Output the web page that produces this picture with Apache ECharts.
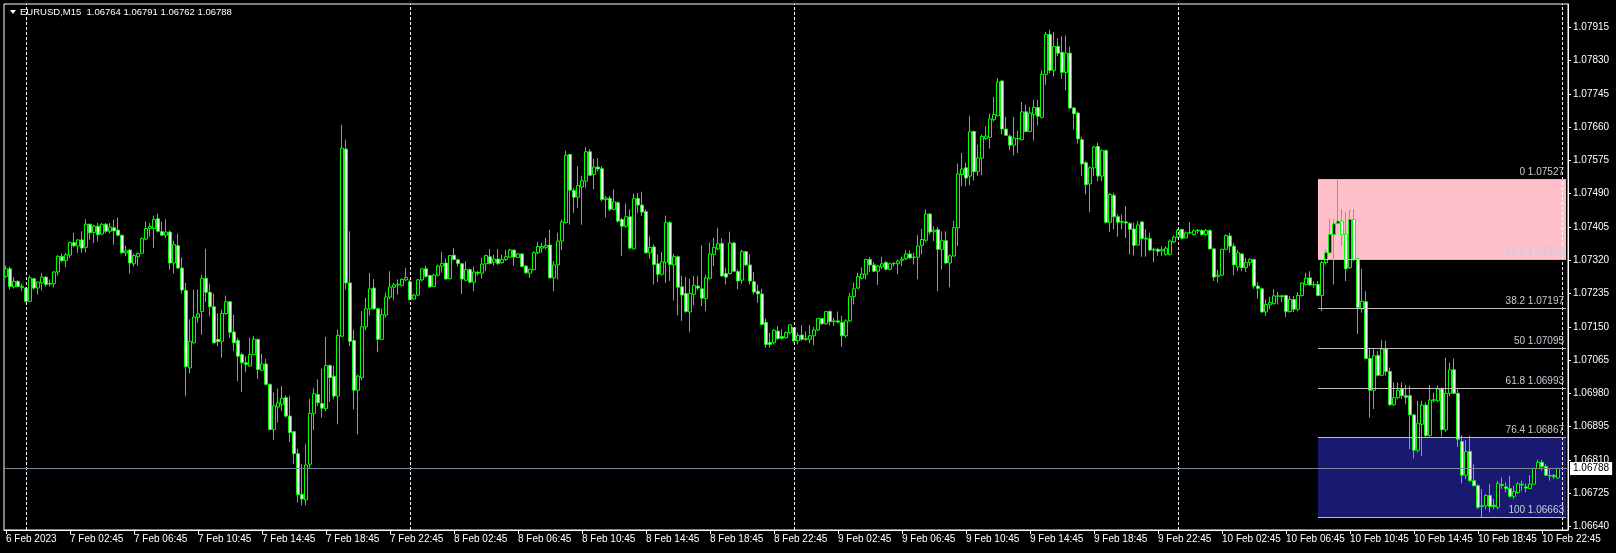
<!DOCTYPE html>
<html>
<head>
<meta charset="utf-8">
<title>EURUSD,M15</title>
<script src="https://cdn.jsdelivr.net/npm/echarts@6/dist/echarts.min.js"></script>
<style>
  html, body { margin: 0; padding: 0; background: #000; }
  #chart { width: 1616px; height: 553px; }
</style>
</head>
<body>
<div id="chart"></div>
<script>
// EURUSD M15 bars, 6 Feb 22:45 .. 10 Feb 23:45, prices in points (1e-5)
const opens = [
  107279,107298,107252,107266,107253,107249,107215,107273,107249,107262,
  107277,107259,107260,107290,107330,107319,107333,107365,107356,107372,
  107353,107412,107391,107407,107387,107412,107394,107403,107397,107384,
  107339,107346,107311,107329,107338,107374,107401,107401,107426,107393,
  107384,107392,107313,107357,107300,107243,107045,107109,107174,107189,
  107274,107238,107201,107118,107113,107184,107214,107137,107115,107079,
  107058,107050,107079,107118,107039,107055,107003,106888,106945,106952,
  106969,106922,106882,106826,106722,106708,106799,106929,106977,106954,
  106941,107051,107024,106973,107126,107604,107262,107115,106988,107020,
  107150,107196,107249,107196,107118,107180,107226,107251,107257,107256,
  107270,107265,107221,107231,107270,107298,107281,107253,107282,107305,
  107313,107273,107333,107321,107311,107269,107296,107264,107289,107287,
  107311,107329,107315,107323,107314,107322,107328,107346,107327,107336,
  107305,107287,107296,107339,107351,107353,107359,107275,107308,107369,
  107416,107590,107498,107481,107507,107522,107597,107539,107558,107554,
  107475,107478,107450,107467,107424,107407,107431,107349,107478,107461,
  107444,107339,107354,107311,107284,107315,107416,107308,107329,107252,
  107235,107188,107233,107254,107247,107222,107274,107335,107349,107363,
  107286,107286,107364,107291,107269,107342,107308,107265,107241,107234,
  107161,107110,107110,107139,107125,107122,107135,107148,107114,107129,
  107118,107118,107127,107142,107171,107158,107189,107163,107165,107161,
  107127,107165,107227,107249,107274,107284,107322,107308,107292,107303,
  107314,107297,107311,107311,107320,107324,107336,107327,107328,107358,
  107371,107438,107393,107398,107348,107370,107313,107331,107403,107539,
  107556,107535,107649,107547,107581,107631,107634,107679,107689,107778,
  107655,107637,107614,107630,107628,107699,107649,107692,107710,107685,
  107795,107897,107805,107866,107851,107800,107849,107709,107696,107628,
  107569,107515,107556,107611,107535,107600,107417,107486,107431,107417,
  107418,107414,107400,107359,107418,107376,107375,107346,107348,107344,
  107335,107335,107367,107379,107399,107377,107390,107386,107395,107396,
  107386,107396,107349,107279,107282,107348,107382,107356,107303,107336,
  107301,107314,107322,107254,107247,107188,107206,107209,107228,107229,
  107230,107189,107220,107195,107230,107258,107275,107257,107258,107230,
  107314,107339,107386,107414,107420,107386,107301,107424,107324,107196,
  107214,107069,106988,107077,107026,107093,107036,106951,106969,106991,
  106974,106974,106925,106835,106901,106950,106872,106962,106961,106991,
  106887,106980,107040,106980,106857,106771,106832,106757,106744,106691,
  106693,106719,106694,106689,106747,106741,106737,106717,106727,106748,
  106741,106737,106748,106788,106804,106793,106770,106770,106764
];
const highs = [
  107306,107304,107277,107269,107260,107251,107281,107275,107266,107288,
  107279,107271,107292,107333,107337,107339,107368,107390,107374,107394,
  107425,107413,107411,107415,107415,107415,107415,107424,107429,107385,
  107357,107349,107337,107340,107378,107419,107415,107434,107439,107419,
  107425,107396,107370,107388,107327,107262,107169,107245,107245,107283,
  107349,107260,107235,107184,107194,107230,107215,107181,107122,107084,
  107075,107122,107126,107119,107081,107068,107005,106982,106992,106999,
  106975,106973,106884,106839,106799,106850,106966,106994,107016,107043,
  107124,107054,107051,107143,107666,107628,107394,107143,107028,107190,
  107224,107288,107272,107198,107196,107238,107292,107262,107271,107274,
  107300,107271,107235,107272,107299,107306,107283,107286,107309,107341,
  107324,107333,107351,107324,107313,107317,107299,107304,107293,107326,
  107334,107349,107334,107349,107334,107347,107349,107347,107339,107339,
  107308,107299,107343,107367,107364,107377,107398,107318,107390,107424,
  107600,107592,107505,107560,107536,107609,107604,107579,107581,107560,
  107484,107484,107501,107471,107428,107465,107450,107490,107492,107495,
  107450,107381,107360,107335,107341,107434,107420,107336,107332,107280,
  107277,107273,107280,107280,107358,107283,107365,107377,107403,107376,
  107301,107393,107366,107297,107347,107343,107335,107290,107258,107247,
  107171,107135,107144,107152,107144,107139,107156,107150,107135,107154,
  107138,107155,107150,107173,107173,107190,107193,107173,107189,107178,
  107169,107237,107263,107288,107302,107324,107328,107315,107307,107329,
  107318,107314,107316,107322,107329,107346,107345,107339,107384,107400,
  107450,107441,107407,107405,107394,107394,107335,107421,107567,107594,
  107569,107689,107651,107615,107641,107662,107694,107737,107785,107779,
  107686,107641,107686,107651,107724,107717,107711,107730,107730,107805,
  107903,107909,107903,107887,107892,107894,107866,107711,107700,107635,
  107573,107560,107613,107620,107603,107603,107492,107492,107437,107437,
  107458,107417,107416,107420,107420,107399,107390,107352,107352,107356,
  107356,107373,107383,107400,107400,107394,107417,107399,107400,107399,
  107400,107399,107351,107295,107349,107386,107390,107363,107346,107339,
  107326,107325,107324,107264,107250,107220,107227,107246,107239,107232,
  107232,107229,107229,107239,107264,107288,107292,107267,107267,107318,
  107348,107426,107424,107527,107450,107443,107450,107451,107326,107298,
  107241,107097,107094,107088,107116,107114,107046,107008,107008,107008,
  107002,107000,106927,106961,106961,106957,107001,106982,107000,106995,
  107071,107058,107069,106991,106873,106861,106872,106799,106748,106736,
  106723,106748,106710,106757,106765,106753,106770,106744,106753,106757,
  106750,106771,106791,106810,106810,106799,106788,106774,106791
];
const lows = [
  107275,107245,107248,107251,107241,107213,107214,107245,107232,107243,
  107253,107253,107251,107281,107315,107302,107326,107353,107339,107339,
  107340,107373,107364,107368,107384,107390,107388,107360,107381,107337,
  107330,107286,107304,107306,107337,107371,107381,107351,107391,107383,
  107377,107296,107286,107298,107235,106973,107031,107107,107160,107130,
  107213,107177,107107,107101,107071,107181,107122,107088,107011,106983,
  107034,107048,107078,107017,107037,107000,106886,106861,106905,106935,
  106918,106856,106799,106701,106694,106694,106790,106886,106948,106918,
  106935,106958,106965,106901,107124,107245,107101,106939,106875,107014,
  107141,107179,107194,107085,107116,107173,107221,107218,107232,107253,
  107266,107217,107220,107228,107266,107275,107249,107252,107279,107288,
  107271,107271,107320,107304,107234,107266,107262,107241,107281,107273,
  107292,107309,107306,107308,107311,107318,107326,107306,107326,107303,
  107285,107275,107294,107336,107339,107348,107273,107241,107271,107346,
  107414,107411,107441,107454,107411,107505,107535,107501,107547,107471,
  107429,107445,107448,107416,107331,107403,107348,107348,107441,107433,
  107337,107324,107258,107264,107281,107262,107267,107217,107179,107165,
  107186,107137,107205,107244,107203,107190,107271,107305,107345,107278,
  107258,107284,107290,107246,107260,107305,107258,107233,107211,107154,
  107097,107097,107105,107116,107118,107120,107131,107111,107105,107114,
  107114,107108,107103,107139,107154,107155,107154,107152,107159,107099,
  107122,107162,107207,107246,107271,107271,107290,107290,107257,107298,
  107294,107294,107305,107284,107305,107320,107324,107309,107271,107335,
  107366,107386,107369,107241,107296,107311,107251,107329,107356,107509,
  107509,107512,107523,107535,107537,107628,107605,107675,107688,107641,
  107637,107601,107588,107594,107626,107647,107647,107626,107664,107682,
  107768,107798,107790,107841,107783,107754,107706,107654,107618,107535,
  107488,107443,107535,107522,107522,107414,107392,107399,107380,107399,
  107377,107335,107332,107358,107329,107329,107343,107315,107331,107331,
  107332,107332,107364,107377,107373,107376,107386,107383,107388,107383,
  107383,107348,107267,107263,107280,107346,107339,107282,107292,107292,
  107290,107305,107247,107222,107186,107178,107195,107207,107207,107213,
  107175,107186,107188,107190,107227,107257,107254,107250,107229,107190,
  107309,107337,107258,107411,107356,107267,107298,107318,107132,107186,
  107067,106918,106940,107025,107025,107025,106948,106948,106965,106965,
  106952,106837,106814,106829,106820,106869,106870,106957,106958,106870,
  106882,106973,106978,106843,106750,106761,106753,106744,106684,106663,
  106684,106676,106684,106683,106736,106727,106714,106710,106723,106731,
  106727,106736,106747,106787,106782,106769,106757,106761,106762
];
const closes = [
  107298,107253,107266,107253,107251,107215,107275,107249,107264,107277,
  107258,107261,107290,107330,107319,107334,107365,107357,107372,107351,
  107412,107390,107407,107385,107412,107394,107405,107395,107384,107339,
  107344,107313,107332,107337,107375,107401,107406,107424,107394,107384,
  107392,107313,107360,107300,107244,107048,107113,107175,107183,107273,
  107238,107201,107109,107112,107184,107214,107136,107109,107075,107058,
  107054,107079,107118,107041,107055,107003,106888,106948,106956,106967,
  106922,106880,106826,106721,106710,106797,106929,106979,106956,106942,
  107051,107020,106973,107128,107606,107262,107113,106988,107024,107150,
  107196,107247,107196,107118,107181,107226,107252,107257,107259,107271,
  107276,107220,107231,107270,107298,107279,107252,107282,107305,107312,
  107272,107332,107322,107312,107272,107296,107264,107290,107287,107310,
  107332,107312,107323,107312,107322,107329,107346,107328,107336,107304,
  107288,107297,107339,107355,107355,107358,107275,107308,107369,107418,
  107588,107499,107481,107511,107523,107597,107537,107558,107553,107475,
  107479,107450,107469,107420,107407,107431,107351,107477,107461,107443,
  107339,107353,107309,107284,107316,107416,107309,107329,107251,107231,
  107189,107235,107256,107249,107223,107275,107336,107353,107362,107280,
  107277,107364,107292,107267,107342,107308,107267,107239,107234,107156,
  107105,107105,107141,107120,107121,107135,107155,107114,107128,107118,
  107120,107127,107142,107171,107158,107189,107163,107165,107162,107127,
  107165,107227,107247,107278,107285,107322,107308,107292,107305,107311,
  107297,107311,107312,107318,107323,107336,107326,107328,107356,107373,
  107438,107392,107397,107348,107370,107313,107331,107403,107540,107553,
  107530,107648,107546,107581,107636,107637,107681,107692,107775,107655,
  107639,107614,107632,107631,107699,107649,107696,107710,107688,107795,
  107897,107805,107866,107849,107800,107849,107709,107694,107630,107566,
  107513,107556,107609,107535,107600,107417,107488,107431,107417,107419,
  107415,107399,107358,107410,107375,107374,107346,107348,107343,107347,
  107351,107369,107379,107397,107376,107390,107391,107395,107397,107386,
  107396,107349,107277,107282,107348,107383,107356,107308,107339,107301,
  107314,107322,107254,107248,107188,107207,107212,107229,107229,107227,
  107189,107220,107195,107230,107262,107274,107257,107258,107230,107314,
  107339,107386,107413,107420,107386,107298,107424,107322,107199,107215,
  107069,106988,107076,107026,107093,107036,106951,106969,106988,106974,
  106970,106925,106835,106904,106950,106872,106963,106964,106991,106887,
  106980,107040,106980,106863,106771,106831,106757,106744,106689,106693,
  106719,106691,106691,106750,106745,106737,106717,106729,106749,106746,
  106738,106748,106788,106804,106793,106771,106769,106767,106788
];

const tickLabels = [
  '6 Feb 2023',
  '7 Feb 02:45', '7 Feb 06:45', '7 Feb 10:45', '7 Feb 14:45', '7 Feb 18:45', '7 Feb 22:45',
  '8 Feb 02:45', '8 Feb 06:45', '8 Feb 10:45', '8 Feb 14:45', '8 Feb 18:45', '8 Feb 22:45',
  '9 Feb 02:45', '9 Feb 06:45', '9 Feb 10:45', '9 Feb 14:45', '9 Feb 18:45', '9 Feb 22:45',
  '10 Feb 02:45', '10 Feb 06:45', '10 Feb 10:45', '10 Feb 14:45', '10 Feb 18:45', '10 Feb 22:45'
];
const yTicks = [
  1.06640, 1.06725, 1.06810, 1.06895, 1.06980, 1.07065, 1.07150, 1.07235,
  1.07320, 1.07405, 1.07490, 1.07575, 1.07660, 1.07745, 1.07830, 1.07915
];
const fibLevels = ['0', '23.6', '38.2', '50', '61.8', '76.4', '100'];
const fibPrices = [1.07527, 1.07323, 1.07197, 1.07095, 1.06993, 1.06867, 1.06663];
const fibStart = '10 Feb 08:45';
const separators = ['7 Feb 00:00', '8 Feb 00:00', '9 Feb 00:00', '10 Feb 00:00', '11 Feb 00:00'];
const bidPrice = 1.06788;
const header = 'EURUSD,M15  1.06764 1.06791 1.06762 1.06788';

// one category per 15 min bar, plus two empty slots of chart shift
const days = ['6 Feb', '7 Feb', '8 Feb', '9 Feb', '10 Feb', '11 Feb'];
const categories = [];
for (let i = 0; i < opens.length + 2; i++) {
  const m = 22 * 60 + 45 + i * 15;
  const r = m % 1440;
  categories.push(days[Math.floor(m / 1440)] + ' ' +
    String(Math.floor(r / 60)).padStart(2, '0') + ':' + String(r % 60).padStart(2, '0'));
}
const fibEnd = categories[categories.length - 1];

const candles = opens.map((o, i) => [o / 1e5, closes[i] / 1e5, lows[i] / 1e5, highs[i] / 1e5]);

const font = '"Liberation Sans", Arial, sans-serif';

const lineMarks = [];
separators.forEach(s => lineMarks.push({
  xAxis: s,
  lineStyle: { color: '#ffffff', type: [3, 2], width: 1 }
}));
fibPrices.forEach((p, k) => lineMarks.push([
  {
    coord: [fibStart, p],
    lineStyle: { color: '#c0c0c0', type: 'solid', width: 1 },
    label: {
      show: true, position: 'insideEndTop', distance: 2,
      formatter: fibLevels[k] + ' ' + p.toFixed(5),
      color: '#c4ccd8', fontSize: 10, fontFamily: font
    }
  },
  { coord: [fibEnd, p] }
]));
lineMarks.push({
  yAxis: bidPrice,
  lineStyle: { color: '#778899', type: 'solid', width: 1 },
  label: {
    show: true, position: 'end', distance: 2,
    formatter: bidPrice.toFixed(5),
    color: '#000', backgroundColor: '#fff', padding: [2, 3, 1, 3],
    fontSize: 10, fontFamily: font
  }
});

const chart = echarts.init(document.getElementById('chart'));
chart.setOption({
  backgroundColor: '#000',
  animation: false,
  grid: {
    left: 4, top: 4, width: 1564, height: 526,
    show: true, borderColor: '#ffffff', borderWidth: 1
  },
  xAxis: {
    type: 'category',
    data: categories,
    boundaryGap: true,
    axisLine: { show: true, lineStyle: { color: '#ffffff' } },
    axisTick: { show: true, interval: 15, alignWithLabel: true, length: 4, lineStyle: { color: '#ffffff' } },
    axisLabel: {
      interval: 15,
      formatter: (v, i) => tickLabels[i / 16],
      align: 'left', color: '#ffffff', fontSize: 10, fontFamily: font, margin: 4
    },
    splitLine: { show: false }
  },
  yAxis: {
    type: 'value',
    position: 'right',
    min: 1.06631,
    max: 1.079745,
    axisLine: { show: true, lineStyle: { color: '#ffffff' } },
    axisTick: { show: true, length: 3, customValues: yTicks, lineStyle: { color: '#ffffff' } },
    axisLabel: {
      customValues: yTicks,
      formatter: v => v.toFixed(5),
      color: '#ffffff', fontSize: 10, fontFamily: font, margin: 5
    },
    splitLine: { show: false }
  },
  graphic: [
    { type: 'polygon', shape: { points: [[10, 10], [16, 10], [13, 14]] }, style: { fill: '#ffffff' } },
    { type: 'text', left: 20, top: 7, style: { text: header, fill: '#ffffff', font: '9.5px ' + font } }
  ],
  series: [{
    type: 'candlestick',
    data: candles,
    barWidth: 3,
    itemStyle: {
      color: '#000000',
      color0: '#ffffff',
      borderColor: '#00ff00',
      borderColor0: '#00ff00',
      borderWidth: 1
    },
    markArea: {
      silent: true,
      label: { show: false },
      data: [
        [{ coord: [fibStart, fibPrices[0]], itemStyle: { color: '#ffc0cb', opacity: 1 } }, { coord: [fibEnd, fibPrices[1]] }],
        [{ coord: [fibStart, fibPrices[5]], itemStyle: { color: '#191970', opacity: 1 } }, { coord: [fibEnd, fibPrices[6]] }]
      ]
    },
    markLine: {
      silent: true,
      symbol: 'none',
      precision: 5,
      label: { show: false },
      data: lineMarks
    }
  }]
});
</script>
</body>
</html>
